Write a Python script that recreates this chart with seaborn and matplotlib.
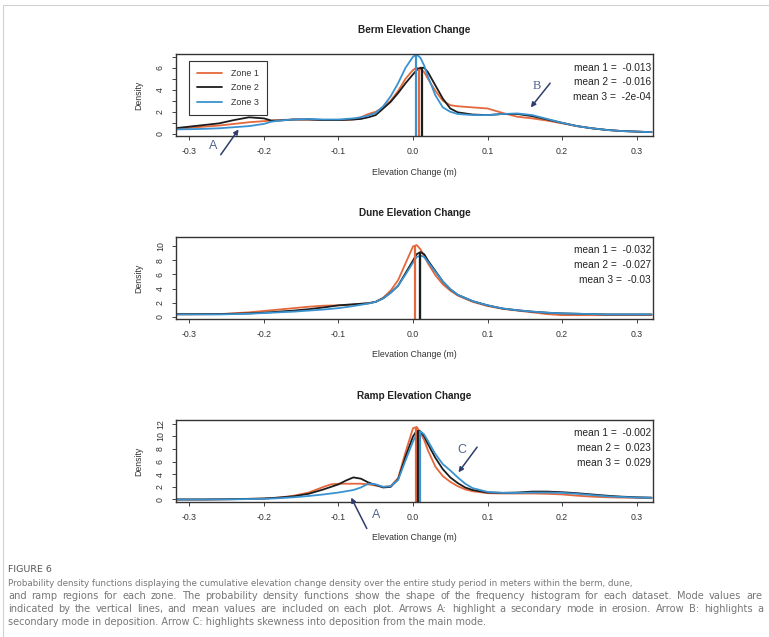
import matplotlib
matplotlib.use("Agg")
import matplotlib.pyplot as plt
import seaborn as sns
import pandas as pd
from matplotlib.patches import Rectangle

W, H = 769, 637

zones = ["Zone 1", "Zone 2", "Zone 3"]
zone_colors = ["#E4683B", "#1C1C1C", "#3A92D0"]

# ---- Berm ----
berm_x = [-0.32, -0.30, -0.28, -0.26, -0.24, -0.22, -0.20, -0.19, -0.18, -0.16, -0.14,
          -0.12, -0.10, -0.08, -0.07, -0.06, -0.05, -0.04, -0.03, -0.02, -0.01, 0.0,
          0.005, 0.01, 0.015, 0.02, 0.03, 0.04, 0.05, 0.06, 0.08, 0.10, 0.12, 0.14,
          0.16, 0.18, 0.20, 0.22, 0.24, 0.26, 0.28, 0.30, 0.32]
berm_z1 = [0.45, 0.55, 0.65, 0.75, 0.9, 1.05, 1.15, 1.2, 1.25, 1.3, 1.3,
           1.25, 1.25, 1.3, 1.5, 1.8, 2.0, 2.4, 3.0, 3.9, 5.0, 5.8,
           6.0, 5.9, 5.6, 5.0, 3.9, 3.0, 2.6, 2.5, 2.4, 2.3, 1.9, 1.55,
           1.4, 1.2, 0.95, 0.7, 0.5, 0.35, 0.25, 0.2, 0.15]
berm_z2 = [0.5, 0.65, 0.8, 0.95, 1.25, 1.5, 1.4, 1.2, 1.2, 1.3, 1.3,
           1.25, 1.25, 1.3, 1.35, 1.5, 1.7, 2.3, 2.9, 3.7, 4.6, 5.4,
           5.8, 6.0, 6.0, 5.6, 4.4, 3.2, 2.3, 1.95, 1.75, 1.7, 1.8, 1.8,
           1.6, 1.3, 1.0, 0.7, 0.5, 0.35, 0.25, 0.2, 0.15]
berm_z3 = [0.4, 0.42, 0.45, 0.5, 0.6, 0.7, 0.9, 1.1, 1.2, 1.3, 1.35,
           1.3, 1.3, 1.4, 1.5, 1.65, 1.9, 2.5, 3.4, 4.6, 6.0, 7.0,
           7.2, 6.9, 6.2, 5.2, 3.5, 2.4, 2.0, 1.8, 1.7, 1.7, 1.8, 1.85,
           1.7, 1.35, 1.0, 0.7, 0.5, 0.35, 0.25, 0.2, 0.15]
berm_modes = [0.008, 0.012, 0.004]
berm_mode_peaks = [5.9, 6.0, 7.2]
berm_means = ["-0.013", "-0.016", "-2e-04"]

# ---- Dune ----
dune_x = [-0.32, -0.30, -0.26, -0.22, -0.20, -0.18, -0.16, -0.14, -0.12, -0.10, -0.08,
          -0.06, -0.05, -0.04, -0.03, -0.02, -0.01, 0.0, 0.005, 0.01, 0.015, 0.02,
          0.03, 0.04, 0.05, 0.06, 0.08, 0.10, 0.12, 0.14, 0.16, 0.18, 0.20, 0.22,
          0.24, 0.26, 0.28, 0.30, 0.32]
dune_z1 = [0.3, 0.3, 0.35, 0.6, 0.8, 1.0, 1.2, 1.4, 1.55, 1.6, 1.7,
           1.9, 2.1, 2.7, 3.7, 5.2, 7.6, 10.0, 10.2, 9.6, 8.6, 7.6,
           5.9, 4.6, 3.7, 3.0, 2.1, 1.5, 1.1, 0.85, 0.6, 0.35, 0.2, 0.2,
           0.2, 0.2, 0.2, 0.2, 0.2]
dune_z2 = [0.35, 0.35, 0.35, 0.45, 0.55, 0.7, 0.85, 1.05, 1.3, 1.6, 1.75,
           1.9, 2.1, 2.6, 3.4, 4.4, 6.2, 8.0, 8.9, 9.2, 8.9, 8.0,
           6.5, 5.0, 3.9, 3.1, 2.2, 1.6, 1.15, 0.9, 0.7, 0.55, 0.45, 0.4,
           0.35, 0.3, 0.3, 0.3, 0.3]
dune_z3 = [0.3, 0.3, 0.3, 0.4, 0.5, 0.6, 0.7, 0.85, 1.0, 1.2, 1.5,
           1.85, 2.1, 2.6, 3.4, 4.4, 6.0, 7.7, 8.5, 8.7, 8.5, 7.8,
           6.4, 5.0, 3.9, 3.1, 2.2, 1.6, 1.15, 0.9, 0.7, 0.55, 0.45, 0.4,
           0.35, 0.3, 0.3, 0.3, 0.3]
dune_modes = [0.002, 0.010, 0.009]
dune_mode_peaks = [10.1, 9.2, 8.7]
dune_means = ["-0.032", "-0.027", "-0.03"]

# ---- Ramp ----
ramp_x = [-0.32, -0.28, -0.24, -0.20, -0.18, -0.16, -0.14, -0.12, -0.11, -0.10, -0.09,
          -0.08, -0.07, -0.06, -0.05, -0.04, -0.03, -0.02, -0.01, 0.0, 0.005, 0.01,
          0.015, 0.02, 0.03, 0.04, 0.05, 0.06, 0.07, 0.08, 0.10, 0.12, 0.14, 0.16,
          0.18, 0.20, 0.22, 0.24, 0.26, 0.28, 0.30, 0.32]
ramp_z1 = [0.0, 0.0, 0.05, 0.15, 0.3, 0.6, 1.1, 2.0, 2.4, 2.5, 2.5,
           2.5, 2.5, 2.4, 2.2, 2.0, 2.1, 3.4, 7.5, 11.3, 11.5, 10.6,
           9.4, 7.8, 5.2, 3.7, 2.8, 2.1, 1.6, 1.3, 1.0, 0.95, 0.95, 0.95,
           0.9, 0.8, 0.6, 0.45, 0.35, 0.3, 0.25, 0.2]
ramp_z2 = [0.0, 0.0, 0.05, 0.15, 0.3, 0.5, 0.9, 1.6, 2.0, 2.4, 3.0,
           3.5, 3.3, 2.7, 2.3, 1.9, 2.0, 3.2, 6.8, 10.0, 10.9, 10.8,
           10.0, 8.8, 6.6, 4.8, 3.5, 2.6, 1.9, 1.5, 1.1, 1.05, 1.1, 1.25,
           1.25, 1.15, 1.0, 0.8, 0.6, 0.45, 0.35, 0.3]
ramp_z3 = [0.0, 0.0, 0.03, 0.1, 0.2, 0.35, 0.55, 0.8, 0.95, 1.1, 1.3,
           1.5, 1.9, 2.5, 2.4, 2.0, 2.1, 3.1, 6.2, 9.2, 10.4, 10.8,
           10.3, 9.3, 7.2, 5.6, 4.6, 3.5, 2.5, 1.8, 1.2, 1.05, 1.05, 1.1,
           1.1, 1.05, 0.9, 0.7, 0.5, 0.4, 0.3, 0.25]
ramp_modes = [0.004, 0.007, 0.009]
ramp_mode_peaks = [11.5, 10.9, 10.8]
ramp_means = ["-0.002", "0.023", "0.029"]

x_ticks = [-0.3, -0.2, -0.1, 0.0, 0.1, 0.2, 0.3]
x_tick_labels = ["-0.3", "-0.2", "-0.1", "0.0", "0.1", "0.2", "0.3"]

panels = [
    dict(title="Berm Elevation Change", x=berm_x, ys=[berm_z1, berm_z2, berm_z3],
         modes=berm_modes, peaks=berm_mode_peaks, means=berm_means,
         ylim=(-0.2, 7.25), yticks=[0, 2, 4, 6], top=54, mode_order=[0, 2, 1]),
    dict(title="Dune Elevation Change", x=dune_x, ys=[dune_z1, dune_z2, dune_z3],
         modes=dune_modes, peaks=dune_mode_peaks, means=dune_means,
         ylim=(-0.35, 11.35), yticks=[0, 2, 4, 6, 8, 10], top=237, mode_order=[0, 2, 1]),
    dict(title="Ramp Elevation Change", x=ramp_x, ys=[ramp_z1, ramp_z2, ramp_z3],
         modes=ramp_modes, peaks=ramp_mode_peaks, means=ramp_means,
         ylim=(-0.4, 12.6), yticks=[0, 2, 4, 6, 8, 10, 12], top=420, mode_order=[0, 1, 2]),
]

sns.set_style("ticks")
plt.rcParams["font.family"] = ["Liberation Sans", "DejaVu Sans"]

fig = plt.figure(figsize=(W / 100, H / 100), dpi=100)

# light frame of the scanned page
fig.patches.append(Rectangle((3 / W, -0.1), 1.2, 1 - 5 / H + 0.1, transform=fig.transFigure,
                             fill=False, edgecolor="#d0d0d0", lw=0.8))

ax_left, ax_w, ax_h = 176, 477, 82
arrow_col = "#2E3D6B"
label_col = "#4F638F"

axes = []
for p in panels:
    ax = fig.add_axes([ax_left / W, 1 - (p["top"] + ax_h) / H, ax_w / W, ax_h / H])
    axes.append(ax)
    df = pd.concat([pd.DataFrame({"x": p["x"], "density": y, "zone": z})
                    for y, z in zip(p["ys"], zones)], ignore_index=True)
    sns.lineplot(data=df, x="x", y="density", hue="zone", palette=zone_colors,
                 lw=1.3, ax=ax, legend=(p is panels[0]))
    for i in p["mode_order"]:
        ax.vlines(p["modes"][i], p["ylim"][0], p["peaks"][i], color=zone_colors[i], lw=1.6)
    ax.set_xlim(-0.318, 0.322)
    ax.set_ylim(*p["ylim"])
    ax.set_xticks(x_ticks)
    ax.set_xticklabels(x_tick_labels)
    ax.set_yticks(p["yticks"])
    ax.tick_params(axis="both", length=3, width=0.7, color="#444", labelsize=6.3,
                   labelcolor="#333", pad=5)
    ax.tick_params(axis="y", labelrotation=90)
    for lab in ax.get_yticklabels():
        lab.set_va("center")
    for s in ax.spines.values():
        s.set_color("#333")
        s.set_linewidth(1.0)
    ax.set_xlabel("Elevation Change (m)", fontsize=6.3, color="#333")
    ax.xaxis.set_label_coords(0.5, -36 / ax_h)
    ax.xaxis.label.set_va("center")
    ax.set_ylabel("Density", fontsize=6.3, color="#333")
    ax.yaxis.set_label_coords(-37 / ax_w, 0.5)
    ax.yaxis.label.set_va("center")
    ax.set_title(p["title"], fontsize=7.2, fontweight="bold", color="#222", pad=15)
    for k, m in enumerate(p["means"]):
        ax.text(0.996, 1 - (13.5 + 14.8 * k) / ax_h, f"mean {k + 1} =  {m}",
                transform=ax.transAxes, ha="right", va="center", fontsize=7.3, color="#222")

# minor ticks on the berm y axis
axes[0].set_yticks([1, 3, 5, 7], minor=True)
axes[0].tick_params(axis="y", which="minor", length=3, width=0.7, color="#444")

leg = axes[0].legend(loc="upper left", bbox_to_anchor=(0.027, 0.915), fontsize=6.4,
                     frameon=True, fancybox=False, edgecolor="#333", framealpha=1,
                     handlelength=2.8, labelspacing=0.6, borderpad=0.9, handletextpad=1.0,
                     borderaxespad=0, title=None)
leg.get_frame().set_linewidth(0.8)
for t in leg.get_texts():
    t.set_color("#333")

def arrow(ax, head, tail):
    ax.annotate("", xy=head, xytext=tail, annotation_clip=False,
                arrowprops=dict(arrowstyle="-|>", color=arrow_col, lw=1.1, mutation_scale=7,
                                shrinkA=0, shrinkB=0))

arrow(axes[0], (-0.234, 0.4), (-0.258, -1.9))
axes[0].text(-0.268, -1.1, "A", fontsize=9, color=label_col, ha="center", va="center",
             clip_on=False)
arrow(axes[0], (0.158, 2.4), (0.184, 4.6))
axes[0].text(0.166, 4.3, "B", fontsize=9, color=label_col, ha="center", va="center",
             family="Liberation Serif")
arrow(axes[2], (-0.083, 0.3), (-0.062, -4.6))
axes[2].text(-0.05, -2.4, "A", fontsize=9, color=label_col, ha="center", va="center",
             clip_on=False)
arrow(axes[2], (0.061, 4.3), (0.086, 8.3))
axes[2].text(0.066, 7.9, "C", fontsize=9, color=label_col, ha="center", va="center")

# caption
fig.text(8 / W, 1 - 569 / H, "FIGURE 6", fontsize=6.8, color="#555", va="center",
         family="DejaVu Sans")
caption = [
    "Probability density functions displaying the cumulative elevation change density over the entire study period in meters within the berm, dune,",
    "and ramp regions for each zone. The probability density functions show the shape of the frequency histogram for each dataset. Mode values are",
    "indicated by the vertical lines, and mean values are included on each plot. Arrows A: highlight a secondary mode in erosion. Arrow B: highlights a",
    "secondary mode in deposition. Arrow C: highlights skewness into deposition from the main mode.",
]
# right edge (px) each line is spread to in the scan; None = natural width
caption_right = [None, 762, 763, None]
caption_size = [6.3, 7.1, 7.1, 7.0]

renderer = fig.canvas.get_renderer()
for i, line in enumerate(caption):
    y = 1 - (583 + 13 * i) / H
    kw = dict(fontsize=caption_size[i], color="#777", va="center", family="DejaVu Sans")
    if caption_right[i] is None:
        fig.text(8 / W, y, line, **kw)
        continue
    words = line.split(" ")
    widths = []
    for w in words:
        t = fig.text(0, 0, w, **kw)
        widths.append(t.get_window_extent(renderer).width)
        t.remove()
    gap = (caption_right[i] - 8 - sum(widths)) / (len(words) - 1)
    xpos = 8.0
    for w, wd in zip(words, widths):
        fig.text(xpos / W, y, w, **kw)
        xpos += wd + gap

fig.savefig("out.png", dpi=100)
